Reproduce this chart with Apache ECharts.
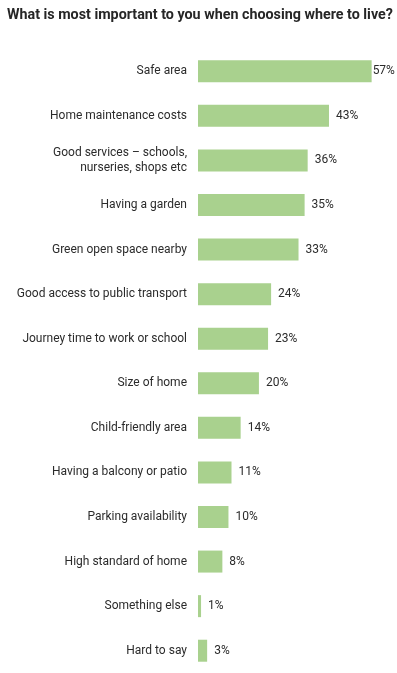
<!DOCTYPE html>
<html>
<head>
<meta charset="utf-8">
<script src="https://cdn.jsdelivr.net/npm/echarts@6/dist/echarts.min.js"></script>
<style>
  html, body { margin: 0; padding: 0; background: #fff; }
  #chart { width: 397px; height: 673px; }
</style>
</head>
<body>
<div id="chart"></div>
<script>
const categories = [
  "Safe area",
  "Home maintenance costs",
  "Good services \u2013 schools,\nnurseries, shops etc",
  "Having a garden",
  "Green open space nearby",
  "Good access to public transport",
  "Journey time to work or school",
  "Size of home",
  "Child-friendly area",
  "Having a balcony or patio",
  "Parking availability",
  "High standard of home",
  "Something else",
  "Hard to say"
];
const values = [57, 43, 36, 35, 33, 24, 23, 20, 14, 11, 10, 8, 1, 3];

var chart = echarts.init(document.getElementById("chart"));

// first label sits tight to the bar in the original (runs into the edge)
var seriesData = values.map(function (v, i) {
  if (i === 0) return { value: v, label: { distance: 1 } };
  return v;
});

var option = {
  animation: false,
  title: {
    text: "What is most important to you when choosing where to live?",
    left: 2,
    top: 3,
    textStyle: {
      fontFamily: "Roboto",
      fontSize: 14.3,
      fontWeight: "bold",
      color: "#262626"
    }
  },
  grid: {
    left: 198,
    right: 1,
    top: 49,
    bottom: -4
  },
  xAxis: {
    type: "value",
    min: 0,
    max: 65,
    show: false
  },
  yAxis: {
    type: "category",
    inverse: true,
    data: categories,
    axisLine: { show: false },
    axisTick: { show: false },
    splitLine: { show: false },
    axisLabel: {
      margin: 11,
      fontFamily: "Roboto",
      fontSize: 12,
      lineHeight: 15,
      color: "#2b2b2b"
    }
  },
  series: [
    {
      type: "bar",
      data: seriesData,
      barWidth: 22,
      itemStyle: { color: "#a9d18e" },
      label: {
        show: true,
        position: "right",
        distance: 7,
        formatter: "{c}%",
        fontFamily: "Roboto",
        fontSize: 12,
        color: "#2b2b2b"
      }
    }
  ]
};

option && chart.setOption(option);
</script>
</body>
</html>
